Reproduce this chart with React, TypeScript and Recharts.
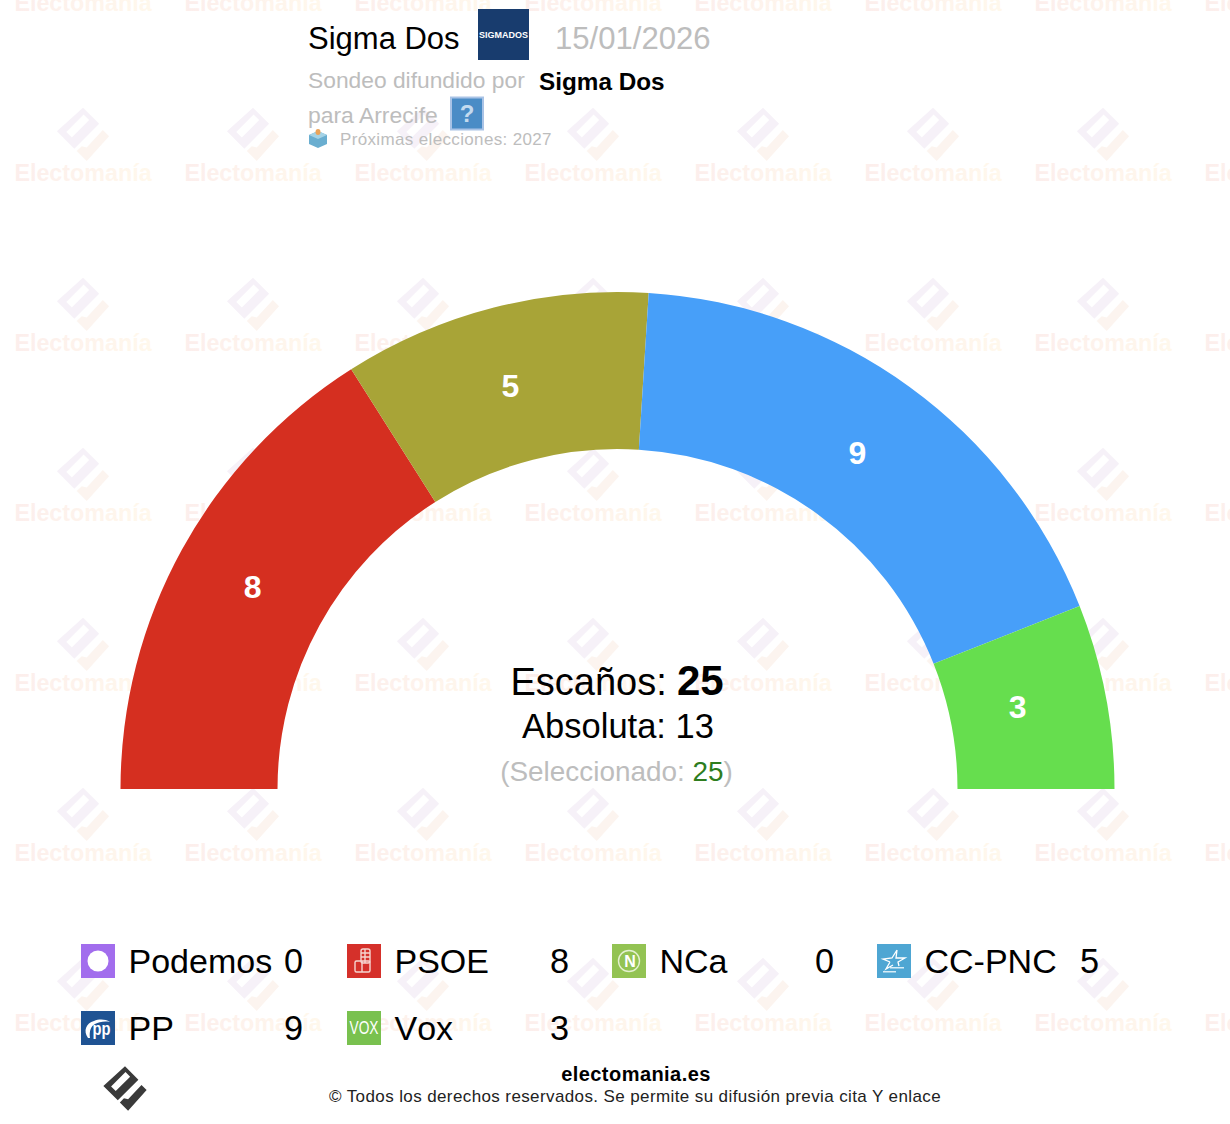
import { Cell, Pie, PieChart } from "recharts";

const parties = ["Podemos", "PSOE", "NCa", "CC-PNC", "PP", "Vox"];
const seats = [0, 8, 0, 5, 9, 3];
const arcColors = ["#a26ded", "#d52f20", "#93c353", "#a8a437", "#479ff9", "#66de4e"];
const iconColors = ["#a26ded", "#d5302a", "#93c353", "#4ea6d3", "#1f5393", "#79c14f"];

const watermarkCols = [83, 253, 423, 593, 763, 933, 1103, 1273];
const watermarkRows = [-35, 135, 305, 475, 645, 815, 985];

const pieData = parties.map((name, i) => ({ name, value: seats[i] }));

const W = 1230;
const H = 1124;
const GRAY = "#bdbdbd";
const FONT = '"Liberation Sans", Arial, sans-serif';
const RADIAN = Math.PI / 180;

// the reference's number labels do not sit exactly on the ring's middle
const labelNudge: Record<string, [number, number]> = {
  PSOE: [2, 0],
  "CC-PNC": [-3, 2],
  PP: [-6, 3],
  Vox: [-11, -4],
};

const LOGO_BOX =
  "M0 -22L13 -9L-7 11L-21 -3ZM-13.5 -2.5L-9 2L5 -12L0.5 -16.5Z";
const LOGO_CHECK = "M-5 13L3 21L21 1L16 -4L3 10L-1 9Z";

function SliceLabel(props: any) {
  const { cx, cy, midAngle, innerRadius, outerRadius, value, name } = props;
  if (!value) return null;
  const r = (innerRadius + outerRadius) / 2;
  const [dx, dy] = labelNudge[name] ?? [0, 0];
  return (
    <text
      x={cx + r * Math.cos(midAngle * RADIAN) + dx}
      y={cy - r * Math.sin(midAngle * RADIAN) + dy}
      fill="#fff"
      fontFamily={FONT}
      fontWeight="bold"
      fontSize={32}
      textAnchor="middle"
      dominantBaseline="central"
    >
      {value}
    </text>
  );
}

function Watermark() {
  return (
    <svg width={W} height={H} style={{ position: "absolute", left: 0, top: 0 }}>
      <defs>
        <linearGradient id="wm">
          <stop offset="0" stopColor="#fceeec" />
          <stop offset="1" stopColor="#fff8ec" />
        </linearGradient>
      </defs>
      {watermarkRows.map((y) =>
        watermarkCols.map((x) => (
          <g key={`${x}-${y}`}>
            <g transform={`translate(${x} ${y}) scale(1.24)`}>
              <path d={LOGO_BOX} fill="#f6f1f8" fillRule="evenodd" />
              <path d={LOGO_CHECK} fill="#fcf4ef" />
            </g>
            <text
              x={x}
              y={y + 46}
              textAnchor="middle"
              fontFamily={FONT}
              fontWeight="bold"
              fontSize={23.3}
              fill="url(#wm)"
            >
              Electomanía
            </text>
          </g>
        ))
      )}
    </svg>
  );
}

function PartyIcon({ index, x, y }: { index: number; x: number; y: number }) {
  const name = parties[index];
  return (
    <g transform={`translate(${x} ${y})`}>
      <rect width={34} height={34} fill={iconColors[index]} />
      {name === "Podemos" && <circle cx={17} cy={17} r={10.5} fill="#fff" />}
      {name === "PSOE" && (
        <g fill="none" stroke="#f6d5d0" strokeWidth={1.4}>
          <rect x={14} y={5} width={9} height={14} rx={2} />
          <path d="M14 9H23M14 13H23M18 5V19" />
          <rect x={8} y={17} width={15} height={11} rx={1.5} />
          <path d="M15 17V28" />
        </g>
      )}
      {name === "NCa" && (
        <g>
          <circle cx={17} cy={17} r={10.5} fill="none" stroke="#e4f0d0" strokeWidth={1.4} />
          <text x={18} y={23} textAnchor="middle" fontFamily={FONT} fontWeight="bold" fontSize={16} fill="#fff">
            N
          </text>
        </g>
      )}
      {name === "CC-PNC" && (
        <g>
          <path
            d="M20 6L19 14L28 14L21 18L22 22M13 18L6 15L15 14L20 6M13 18L9 25L16 21"
            fill="none"
            stroke="#fff"
            strokeWidth={1.3}
          />
          <rect x={13} y={23} width={14} height={1.5} fill="#d8edf7" />
          <rect x={6} y={27} width={13} height={1.5} fill="#d8edf7" />
        </g>
      )}
      {name === "PP" && (
        <g>
          <path d="M7 27C2 20 5 12 13 10C18 8 24 8 29 11C23 10 18 11 14 13C10 15 8 20 9 27Z" fill="#fff" />
          <text x={20.5} y={24} textAnchor="middle" fontFamily={FONT} fontWeight="bold" fontSize={19} fill="#fff" textLength={18} lengthAdjust="spacingAndGlyphs">
            pp
          </text>
        </g>
      )}
      {name === "Vox" && (
        <text x={17} y={23} textAnchor="middle" fontFamily={FONT} fontSize={18} fill="#fff" textLength={29} lengthAdjust="spacingAndGlyphs">
          VOX
        </text>
      )}
    </g>
  );
}

function Foreground() {
  return (
    <svg
      width={W}
      height={H}
      fontFamily={FONT}
      style={{ position: "absolute", left: 0, top: 0 }}
    >
      <text x={308} y={49} fontSize={31} fill="#000">
        Sigma Dos
      </text>
      <rect x={478} y={9} width={51} height={51} fill="#183c6e" />
      <text x={503.5} y={37.5} textAnchor="middle" fontSize={9.5} fontWeight="bold" fill="#fff" textLength={49} lengthAdjust="spacingAndGlyphs">
        SIGMADOS
      </text>
      <text x={555} y={49} fontSize={31.1} fill={GRAY}>
        15/01/2026
      </text>
      <text x={308} y={88} fontSize={22.8} fill={GRAY}>
        Sondeo difundido por
      </text>
      <text x={539} y={90} fontSize={24.3} fontWeight="bold" fill="#000">
        Sigma Dos
      </text>
      <text x={308} y={123} fontSize={22.9} fill={GRAY}>
        para Arrecife
      </text>
      <rect x={451} y={97.5} width={32} height={32} fill="#4a8cc6" stroke="#a9c3e6" strokeWidth={2} />
      <text x={467} y={122} textAnchor="middle" fontSize={24} fontWeight="bold" fill="#c4daee">
        ?
      </text>
      <path d="M309 135L318 131L327 135V144L318 148L309 144Z" fill="#6aaed0" />
      <path d="M309 135L318 139L327 135L318 131Z" fill="#a5d3e6" />
      <ellipse cx={318} cy={132} rx={2.5} ry={3} fill="#eba45a" />
      <text x={340} y={145} fontSize={17} letterSpacing={0.35} fill={GRAY}>
        Próximas elecciones: 2027
      </text>

      <text x={510.5} y={695} fontSize={38} fill="#000">
        Escaños:
      </text>
      <text x={677} y={695} fontSize={42} fontWeight="bold" fill="#000">
        25
      </text>
      <text x={618} y={738} textAnchor="middle" fontSize={34.5} fill="#000">
        Absoluta: 13
      </text>
      <text x={616.5} y={780.5} textAnchor="middle" fontSize={27.9} fill={GRAY}>
        (Seleccionado: <tspan fill="#2e7d1e">25</tspan>)
      </text>

      {parties.map((name, i) => {
        const x = [81, 347, 612, 877][i % 4];
        const y = i < 4 ? 944 : 1011;
        return (
          <g key={name}>
            <PartyIcon index={i} x={x} y={y} />
            <text x={x + 47.5} y={y + 29} fontSize={34} fill="#000" style={{ fontKerning: "none" }}>
              {name}
            </text>
            <text x={x + 222} y={y + 29} textAnchor="end" fontSize={34.3} fill="#000">
              {seats[i]}
            </text>
          </g>
        );
      })}

      <g transform="translate(125 1089) scale(1.03)" fill="#3a3a3a">
        <path d={LOGO_BOX} fillRule="evenodd" />
        <path d={LOGO_CHECK} />
      </g>
      <text x={636} y={1081} textAnchor="middle" fontSize={20} letterSpacing={0.45} fontWeight="bold" fill="#000">
        electomania.es
      </text>
      <text x={635} y={1102} textAnchor="middle" fontSize={17} letterSpacing={0.39} fill="#222">
        © Todos los derechos reservados. Se permite su difusión previa cita Y enlace
      </text>
    </svg>
  );
}

export default function App() {
  return (
    <div style={{ position: "absolute", left: 0, top: 0, width: W, height: H, overflow: "hidden", background: "#fff" }}>
      <Watermark />
      <div style={{ position: "absolute", left: 0, top: 0 }}>
        <PieChart width={W} height={H} margin={{ top: 0, right: 0, bottom: 0, left: 0 }}>
          <Pie
            data={pieData}
            dataKey="value"
            nameKey="name"
            cx={617.5}
            cy={789}
            startAngle={180}
            endAngle={0}
            innerRadius={340}
            outerRadius={497}
            stroke="none"
            label={SliceLabel}
            labelLine={false}
            isAnimationActive={false}
          >
            {pieData.map((d, i) => (
              <Cell key={d.name} fill={arcColors[i]} />
            ))}
          </Pie>
        </PieChart>
      </div>
      <Foreground />
    </div>
  );
}
